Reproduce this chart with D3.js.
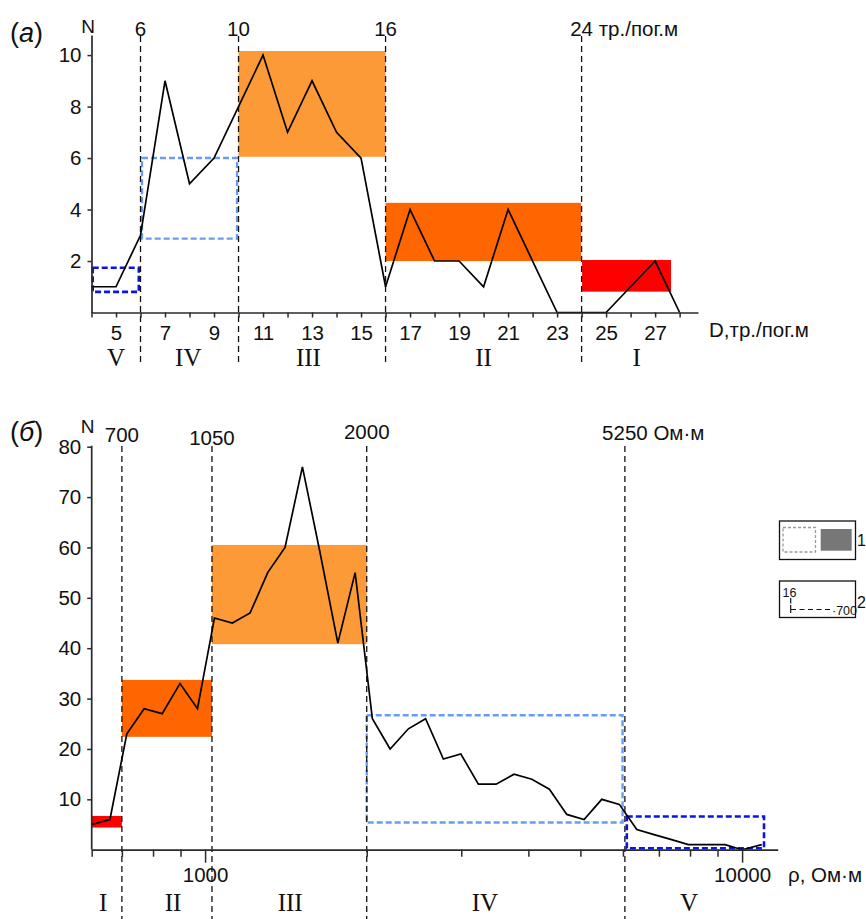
<!DOCTYPE html>
<html><head><meta charset="utf-8">
<script src="https://cdn.jsdelivr.net/npm/d3@7"></script>
<style>
html,body{margin:0;padding:0;background:#fff;overflow:hidden}
text{font-family:"Liberation Sans",Arial,sans-serif;fill:#111}
.roman{font-family:"Liberation Serif","Times New Roman",serif}
</style></head>
<body>
<svg id="c" width="866" height="919"></svg>
<script>
// ---------- DATA ----------
// (а) number of fractures per running metre
const topD = [4,5,6,7,8,9,10,11,12,13,14,15,16,17,18,19,20,21,22,23,24,25,26,27,28];
const topN = [1,1,3,9,5,6,8,10,7,9,7,6,1,4,2,2,1,4,2,0,0,0,1,2,0];
const topBounds = [6,10,16,24];
const topBoundLabels = ["6","10","16","24"];
const topYTicks = [2,4,6,8,10];
const topXTicks = [4,5,6,7,8,9,10,11,12,13,14,15,16,17,18,19,20,21,22,23,24,25,26,27,28];
const topXLabels = [5,7,9,11,13,15,17,19,21,23,25,27];
const topZoneNames = ["V","IV","III","II","I"];
const topZoneLabelAt = [5,7.95,12.85,20,26.25];
const topZoneD0 = [4.05,6.06,10,16,24.02];
const topZoneD1 = [5.93,9.94,16,23.98,27.65];
const topZoneN0 = [0.8,2.87,6.05,2.0,0.81];
const topZoneN1 = [1.74,6.0,10.16,4.26,2.04];

// (б) resistivity
const rho = [615,665,715,770,832,898,968,1041,1124,1213,1308,1409,1518,1637,1767,1903,2049,2211,2391,2574,2778,2994,3228,3483,3762,4059,4377,4716,5079,5479,5908,6367,6857,7391,7943,8570,9296,10000,10881];
const rhoN = [5,6,23,28,27,33,28,46,45,47,55,60,76,59,41,55,26,20,24,26,18,19,13,13,15,14,12,7,6,10,9,4,3,2,1,1,1,0,1];
const botBounds = [700,1030,2000,6050];
const botBoundLabels = ["700","1050","2000","5250"];
const botYTicks = [10,20,30,40,50,60,70,80];
const botXTicks = [615,700,800,900,1000,2000,3000,4000,5000,6000,7000,8000,9000,10000];
const botXLabels = [1000,10000];
const botZoneNames = ["I","II","III","IV","V"];
const botZoneLabelAt = [646,872,1440,3320,7965];
const botZoneR0 = [615,700,1030,2000,6100];
const botZoneR1 = [700,1030,2000,5990,10985];
const botZoneN0 = [4.4,22.4,40.8,5.4,0.3];
const botZoneN1 = [6.7,33.7,60.5,26.7,6.6];

// ---------- STYLES ----------
const zoneStyleTop = ["dashDark","dashLight","fillOrange","fillDark","fillRed"];
const zoneStyleBot = ["fillRed","fillDark","fillOrange","dashLight","dashDark"];
const styles = {
  dashDark:{fill:"none",stroke:"#0a14e6",sw:2.6,dash:"6,3"},
  dashLight:{fill:"none",stroke:"#6a9cf5",sw:2.4,dash:"6,3"},
  fillOrange:{fill:"#fd9a38",stroke:"none"},
  fillDark:{fill:"#ff6600",stroke:"none"},
  fillRed:{fill:"#ff0000",stroke:"none"}
};
const FS = "20.5px";

const svg = d3.select("#c");
const AX = "#2a2a2a";

function drawZones(g, x, y, d0, d1, n0, n1, st){
  d0.forEach((v,i)=>{
    const s = styles[st[i]];
    const r = g.append("rect")
      .attr("x", x(v)).attr("y", y(n1[i]))
      .attr("width", x(d1[i])-x(v)).attr("height", y(n0[i])-y(n1[i]))
      .attr("fill", s.fill);
    if(s.stroke!=="none"){
      r.attr("stroke", s.stroke).attr("stroke-width", s.sw).attr("stroke-dasharray", s.dash);
    }
  });
}
function styleAxis(g){
  g.select(".domain").attr("stroke",AX).attr("stroke-width",1.7);
  g.selectAll(".tick line").attr("stroke",AX).attr("stroke-width",1.5);
  g.selectAll(".tick text").attr("fill","#111").style("font-size",FS)
    .style("font-family","'Liberation Sans',Arial,sans-serif");
}
function labelWithUnit(g, xc, yb, num, unit){
  const t = g.append("text").attr("y", yb).style("font-size",FS);
  t.append("tspan").text(num);
  const w = t.node().getComputedTextLength();
  t.attr("x", xc - w/2);
  if(unit) t.append("tspan").text(" "+unit);
}

// ================= TOP CHART =================
const xT = d3.scaleLinear().domain([4,28.75]).range([91.5,698]);
const yT = d3.scaleLinear().domain([0,10.78]).range([312.5,35]);
const gT = svg.append("g");

drawZones(gT, xT, yT, topZoneD0, topZoneD1, topZoneN0, topZoneN1, zoneStyleTop);

topBounds.forEach((b,i)=>{
  gT.append("line").attr("x1",xT(b)).attr("x2",xT(b)).attr("y1",36).attr("y2",365)
    .attr("stroke","#111").attr("stroke-width",1.3).attr("stroke-dasharray","6,4");
  if(i<topBounds.length-1){
    gT.append("text").attr("x",xT(b)).attr("y",36).attr("text-anchor","middle")
      .style("font-size",FS).text(topBoundLabels[i]);
  } else {
    labelWithUnit(gT, xT(b), 36, topBoundLabels[i], "тр./пог.м");
  }
});

gT.append("path").datum(topD.map((d,i)=>[d,topN[i]]))
  .attr("fill","none").attr("stroke","#000").attr("stroke-width",1.7)
  .attr("d", d3.line().x(d=>xT(d[0])).y(d=>yT(d[1])));

const axT = gT.append("g").attr("transform",`translate(0,${yT(0)})`)
  .call(d3.axisBottom(xT).tickValues(topXTicks).tickSize(5).tickSizeOuter(0).tickPadding(7.5)
    .tickFormat(d=>topXLabels.includes(d)?d:""));
styleAxis(axT);
const ayT = gT.append("g").attr("transform",`translate(${xT(4)},0)`)
  .call(d3.axisLeft(yT).tickValues(topYTicks).tickSize(4).tickSizeOuter(0).tickPadding(6));
styleAxis(ayT);

gT.append("text").attr("x",88).attr("y",33).attr("text-anchor","middle").style("font-size","19px").text("N");
const ta = gT.append("text").attr("x",10).attr("y",42).style("font-size","27px");
ta.append("tspan").text("(");
ta.append("tspan").style("font-style","italic").text("а");
ta.append("tspan").text(")");
gT.append("text").attr("x",709).attr("y",337).style("font-size",FS).text("D,тр./пог.м");

topZoneNames.forEach((n,i)=>{
  gT.append("text").attr("class","roman").attr("x",xT(topZoneLabelAt[i])).attr("y",366)
    .attr("text-anchor","middle").style("font-size","25px").text(n);
});

// ================= BOTTOM CHART =================
const xB = d3.scaleLog().domain([615,11650]).range([91.7,777.7]);
const yB = d3.scaleLinear().domain([0,80]).range([849.7,446.7]);
const gB = svg.append("g");

drawZones(gB, xB, yB, botZoneR0, botZoneR1, botZoneN0, botZoneN1, zoneStyleBot);

botBounds.forEach((b,i)=>{
  gB.append("line").attr("x1",xB(b)).attr("x2",xB(b)).attr("y1",446).attr("y2",919)
    .attr("stroke","#111").attr("stroke-width",1.3).attr("stroke-dasharray","6,4");
  if(i<botBounds.length-1){
    gB.append("text").attr("x",xB(b)).attr("y",[442,445,439][i]).attr("text-anchor","middle")
      .style("font-size",FS).text(botBoundLabels[i]);
  } else {
    labelWithUnit(gB, xB(b), 440, botBoundLabels[i], "Ом·м");
  }
});

gB.append("path").datum(rho.map((d,i)=>[d,rhoN[i]]))
  .attr("fill","none").attr("stroke","#000").attr("stroke-width",1.7)
  .attr("d", d3.line().x(d=>xB(d[0])).y(d=>yB(d[1])));

const axB = gB.append("g").attr("transform",`translate(0,${yB(0)})`)
  .call(d3.axisBottom(xB).tickValues(botXTicks).tickSize(7).tickSizeOuter(0).tickPadding(11)
    .tickFormat(d=>botXLabels.includes(d)?String(d):""));
styleAxis(axB);
axB.selectAll(".tick").filter(d=>botXLabels.includes(d)).select("line").attr("y2",13);
axB.selectAll(".tick text").attr("y",17.5);
const ayB = gB.append("g").attr("transform",`translate(${xB(615)},0)`)
  .call(d3.axisLeft(yB).tickValues(botYTicks).tickSize(4.5).tickSizeOuter(0).tickPadding(6));
styleAxis(ayB);
ayB.select(".domain").attr("d",`M0,${yB(0)}V${yB(80)-1}`);

gB.append("text").attr("x",87.5).attr("y",433).attr("text-anchor","middle").style("font-size","19px").text("N");
const tb = gB.append("text").attr("x",10).attr("y",441).style("font-size","27px");
tb.append("tspan").text("(");
tb.append("tspan").style("font-style","italic").text("б");
tb.append("tspan").text(")");
gB.append("text").attr("x",788).attr("y",882).style("font-size",FS).text("ρ, Ом·м");

botZoneNames.forEach((n,i)=>{
  gB.append("text").attr("class","roman").attr("x",xB(botZoneLabelAt[i])).attr("y",911)
    .attr("text-anchor","middle").style("font-size","25px").text(n);
});

// ================= LEGEND =================
const lg = svg.append("g");
lg.append("rect").attr("x",779.5).attr("y",521).attr("width",76).attr("height",38.5)
  .attr("fill","#fff").attr("stroke","#111").attr("stroke-width",1.3);
lg.append("rect").attr("x",783).attr("y",527.5).attr("width",32.5).attr("height",24.5)
  .attr("fill","none").attr("stroke","#999").attr("stroke-width",1.3).attr("stroke-dasharray","3,2");
lg.append("rect").attr("x",820.7).attr("y",529).attr("width",31).attr("height",21.7).attr("fill","#777");
lg.append("text").attr("x",857).attr("y",546).style("font-size","16px").text("1");

lg.append("rect").attr("x",779.5).attr("y",581).attr("width",76).attr("height",36.5)
  .attr("fill","#fff").attr("stroke","#111").attr("stroke-width",1.3);
lg.append("text").attr("x",782.5).attr("y",597).style("font-size","12.5px").text("16");
lg.append("line").attr("x1",790.7).attr("x2",790.7).attr("y1",598).attr("y2",603.5).attr("stroke","#111").attr("stroke-width",1.2);
lg.append("line").attr("x1",790.7).attr("x2",790.7).attr("y1",605).attr("y2",613).attr("stroke","#111").attr("stroke-width",1.2);
lg.append("line").attr("x1",791).attr("x2",833).attr("y1",609.5).attr("y2",609.5)
  .attr("stroke","#111").attr("stroke-width",1.2).attr("stroke-dasharray","5,3.5");
lg.append("text").attr("x",832).attr("y",614.5).style("font-size","12.5px").text("·700");
lg.append("text").attr("x",857).attr("y",608).style("font-size","16px").text("2");
</script>
</body></html>
